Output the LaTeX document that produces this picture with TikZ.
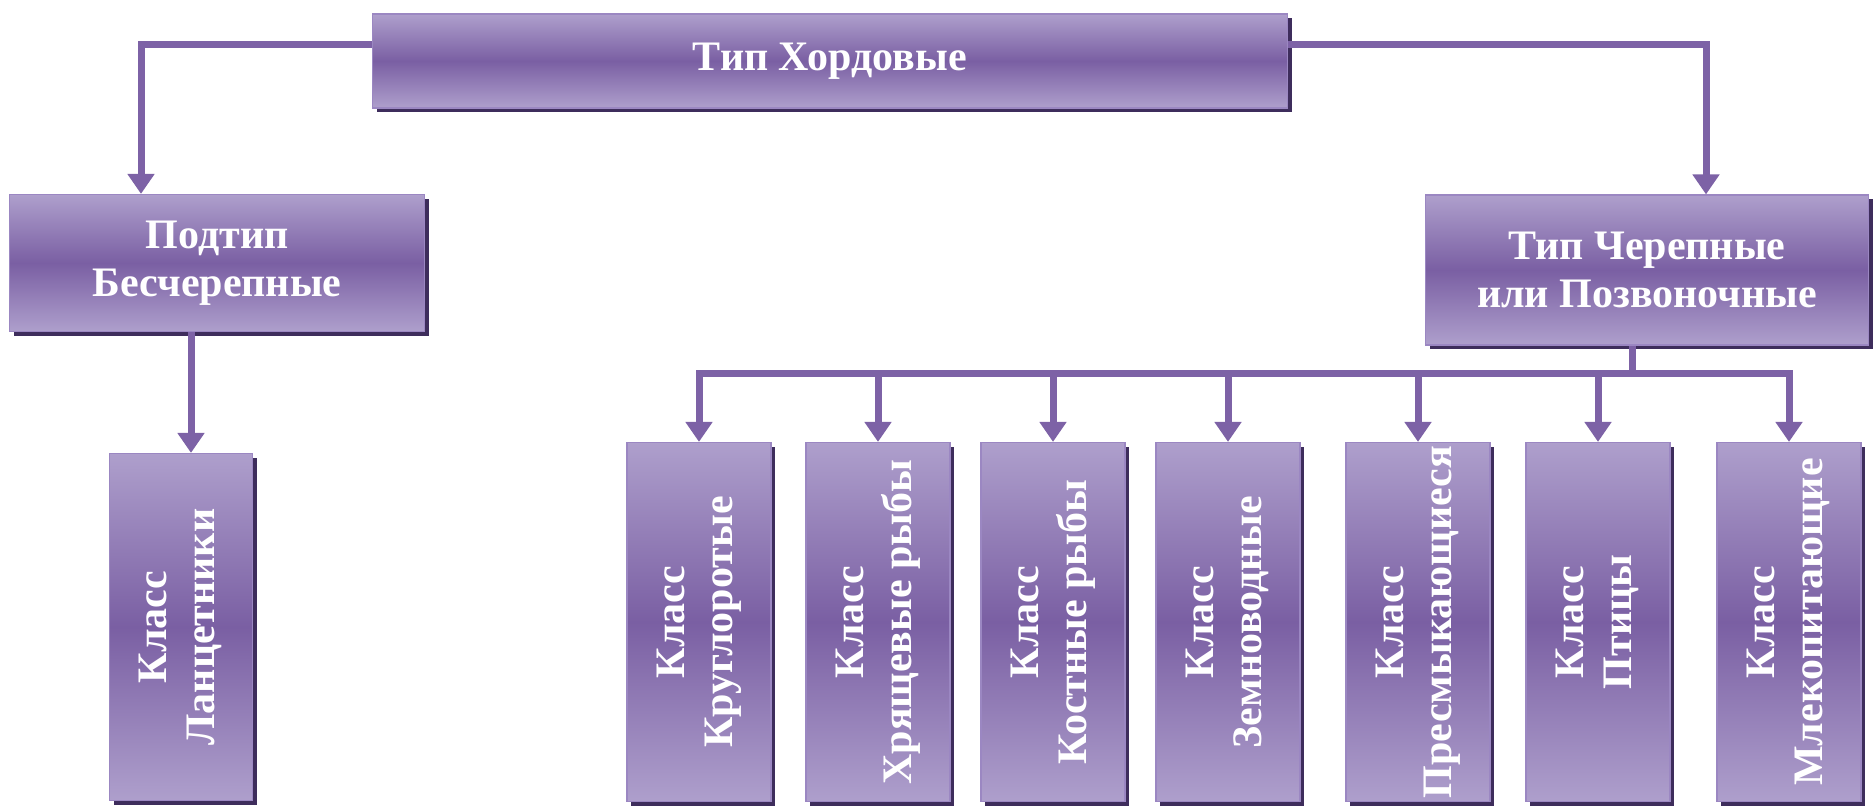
\documentclass[tikz,border=0pt]{standalone}
\usepackage{fontspec}
\setmainfont{Liberation Serif}
\usetikzlibrary{arrows.meta,shadows}
\definecolor{lavlight}{HTML}{AE9FCC}
\definecolor{lavdark}{HTML}{7A5FA3}
\definecolor{lavline}{HTML}{7D62A6}
\definecolor{lavshadow}{HTML}{3E2D5C}
\definecolor{lavborder}{HTML}{9B87C2}
\tikzset{
  taxbox/.style={draw=lavborder, line width=0.6pt, top color=lavlight, bottom color=lavlight, middle color=lavdark,
    drop shadow={shadow xshift=2.2pt, shadow yshift=-2.2pt, fill=lavshadow, opacity=1},
    text=white, font=\bfseries\fontsize{21}{24}\selectfont, align=center, inner sep=0pt},
  classbox/.style={taxbox, minimum width=72pt, minimum height=179.5pt},
  link/.style={draw=lavline, line width=3.5pt, -{Triangle[width=13pt,length=10pt]}},
  plainlink/.style={draw=lavline, line width=3.5pt}
}
\newcommand{\vtext}[2]{\rotatebox{90}{\begin{tabular}{@{}c@{}}#1\\#2\end{tabular}}}
\begin{document}
\begin{tikzpicture}[x=0.5pt, y=-0.5pt]
\useasboundingbox (0,0) rectangle (1874,808);
% top level
\node[taxbox, minimum width=457.5pt, minimum height=47pt] (chord) at (830,61) {Тип Хордовые};
\node[taxbox, minimum width=207.5pt, minimum height=68.5pt] (acran) at (217,263) {Подтип\\Бесчерепные};
\node[taxbox, minimum width=221.5pt, minimum height=75pt] (cran) at (1647,270) {Тип Черепные\\или Позвоночные};
% classes
\node[taxbox, minimum width=71.5pt, minimum height=173.5pt] (lanc) at (181,627) {\vtext{Класс}{Ланцетники}};
\foreach \x/\name [count=\k] in {699/Круглоротые, 878/Хрящевые рыбы, 1053/Костные рыбы, 1228/Земноводные,
    1418/Пресмыкающиеся, 1598/Птицы, 1789/Млекопитающие}
  \node[classbox] (k\k) at (\x,622) {\vtext{Класс}{\name}};
% connectors
\draw[link] ([yshift=8pt]chord.west) -| ([xshift=-38pt]acran.north);
\draw[link] ([yshift=8pt]chord.east) -| ([xshift=29.5pt]cran.north);
\draw[link] ([xshift=-13pt]acran.south) -- ([xshift=-13pt]acran.south |- lanc.north);
\coordinate (fork) at (1632,373);
\draw[plainlink] (cran.south -| fork) -- (fork);
\foreach \k in {1,...,7}
  \draw[link] (fork) -| (k\k.north);
\end{tikzpicture}
\end{document}
